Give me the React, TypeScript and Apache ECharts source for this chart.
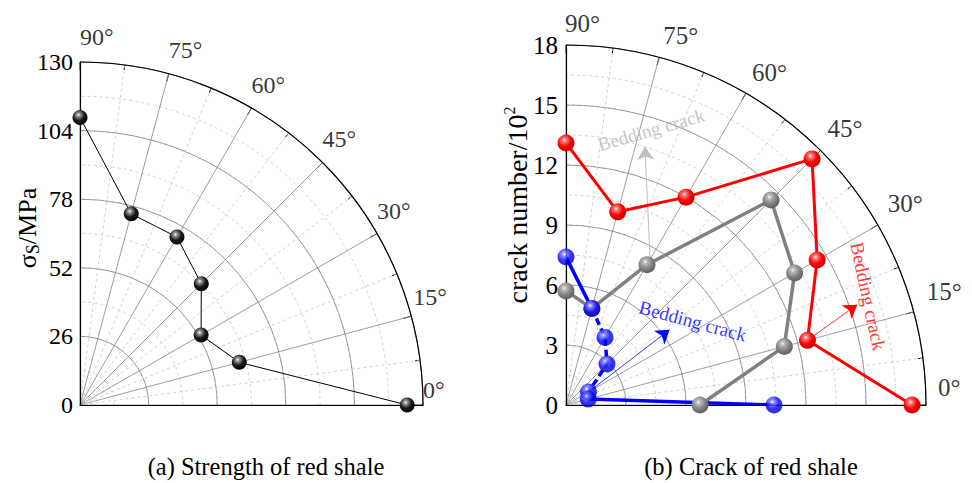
import React, { useEffect, useRef } from 'react';
import * as echarts from 'echarts';

// ---------------- data ----------------
const angles = [90, 75, 60, 45, 30, 15, 0];
const angleTicks = [0, 15, 30, 45, 60, 75, 90];

// (a) strength of red shale, MPa
const strength = [109, 75, 73.5, 65, 53, 62.5, 124];
const strengthMax = 130;
const strengthStep = 26;

// (b) crack number / 10^2
const crackRed = [13.1, 10.0, 12.0, 17.4, 14.5, 12.5, 17.3];
const crackGray = [5.7, 5.0, 8.1, 14.5, 13.2, 11.3, 6.7];
const crackBlue = [7.4, 5.0, 3.9, 2.9, 1.3, 1.15, 10.4];
const crackMax = 18;
const crackStep = 3;

// annotation arrows [radius, angle] -> [radius, angle]
const arrowRed = [[12.5, 15], [15.4, 19]];
const arrowBlue = [[1.3, 30], [6.4, 36]];
const arrowGray = [[8.3, 59.5], [13.5, 73]];
// annotation text anchors [radius, angle]
const textRed = [16.05, 19.8];
const textBlue = [7.6, 33.5];
const textGray = [14.4, 72.8];
const annotationText = 'Bedding crack';

const captionA = '(a) Strength of red shale';
const captionB = '(b) Crack of red shale';

// ---------------- styles ----------------
const FONT = "'Liberation Serif', 'Times New Roman', serif";
const polarA = { center: [80, 405], radius: 343 };
const polarB = { center: [566, 405], radius: 360 };
// angle label offsets (dx, dy) relative to the outer arc, ordered like angleTicks
const labelOffA = [[0, -15], [2, -19], [0, -22.5], [0, -23.5], [0, -23], [0, -24], [0, -25]];
const labelOffB = [[12, -18], [13, -20], [10, -22], [7, -22], [6, -21], [4, -22], [-1, -22]];
const gridColor = '#858585';
const minorColor = '#c4c4c4';

function sphere(light: string, mid: string, dark: string) {
  return new echarts.graphic.RadialGradient(0.4, 0.33, 0.7, [
    { offset: 0, color: '#ffffff' },
    { offset: 0.16, color: light },
    { offset: 0.55, color: mid },
    { offset: 1, color: dark },
  ]);
}

const angleBase = {
  type: 'value',
  min: 0,
  max: 90,
  interval: 15,
  startAngle: 0,
  endAngle: 90,
  clockwise: false,
};

// helper polars: only the dashed minor circles
function minorAngleAxis(polarIndex: number) {
  return {
    ...angleBase,
    polarIndex,
    axisLine: { show: false },
    axisTick: { show: false },
    axisLabel: { show: false },
    splitLine: { show: false },
  };
}
function minorRadiusAxis(polarIndex: number, max: number, step: number) {
  return {
    polarIndex,
    type: 'value',
    min: 0,
    max,
    interval: step / 2,
    axisLine: { show: false },
    axisTick: { show: false },
    axisLabel: { show: false },
    splitLine: { show: true, lineStyle: { color: minorColor, width: 0.8, type: [3, 3] } },
  };
}

function angleAxis(polarIndex: number) {
  return {
    ...angleBase,
    polarIndex,
    axisLine: { show: true, lineStyle: { color: '#000', width: 1.2 } },
    axisTick: { show: true, inside: true, length: 8, lineStyle: { color: '#000', width: 1 } },
    minorTick: { show: true, splitNumber: 2, length: 5, lineStyle: { color: '#000', width: 1 } },
    axisLabel: { show: false },
    splitLine: { show: true, lineStyle: { color: gridColor, width: 0.8 } },
    minorSplitLine: { show: true, lineStyle: { color: minorColor, width: 0.8, type: [3, 3] } },
  };
}

function radiusAxis(polarIndex: number, max: number, step: number) {
  return {
    polarIndex,
    type: 'value',
    min: 0,
    max,
    interval: step,
    axisLine: { show: true, lineStyle: { color: '#000', width: 1.2 } },
    axisTick: { show: false },
    axisLabel: { show: false },
    splitLine: { show: true, lineStyle: { color: gridColor, width: 0.8 } },
  };
}

function verticalAxis(gridIndex: number, max: number, step: number, fontSize: number, margin: number) {
  return {
    gridIndex,
    type: 'value',
    min: 0,
    max,
    interval: step,
    position: 'left',
    axisLine: { show: true, onZero: false, lineStyle: { color: '#000', width: 1.2 } },
    axisTick: { show: false },
    splitLine: { show: false },
    axisLabel: { show: true, margin, fontFamily: FONT, fontSize, color: '#000' },
  };
}

function angleLabels(polarIndex: number, max: number, offs: number[][], fontSize: number) {
  return {
    type: 'scatter',
    coordinateSystem: 'polar',
    polarIndex,
    silent: true,
    clip: false,
    symbolSize: 1,
    itemStyle: { color: 'rgba(0,0,0,0)' },
    data: angleTicks.map((a, i) => ({
      value: [max, a],
      label: { offset: offs[i] },
    })),
    label: {
      show: true,
      position: 'inside',
      align: 'left',
      verticalAlign: 'middle',
      formatter: (p: any) => p.value[1] + '°',
      fontFamily: FONT,
      fontSize,
      color: '#000',
    },
  };
}

function pts(vals: number[], idx?: number[]) {
  const list = idx ? idx : vals.map((_, i) => i);
  return list.map((i) => [vals[i], angles[i]]);
}

function crackSeries(vals: number[], color: string, grad: any, width: number) {
  return {
    type: 'line',
    coordinateSystem: 'polar',
    polarIndex: 3,
    clip: false,
    data: pts(vals),
    symbol: 'circle',
    symbolSize: 17,
    lineStyle: { color, width },
    itemStyle: { color: grad, borderWidth: 0 },
    z: 5,
  };
}

function mark(seg: number[][], color: string, width: number) {
  return [
    { coord: seg[0], lineStyle: { color, width, type: 'solid' } },
    { coord: seg[1] },
  ];
}

function textItem(pos: number[], color: string, rotate: number) {
  return {
    value: pos,
    label: { color, rotate },
  };
}

export default function App() {
  const ref = useRef<HTMLDivElement>(null);
  useEffect(() => {
    document.body.style.margin = '0';
    const chart = echarts.init(ref.current!, undefined, { renderer: 'svg' });
    const red = '#ff0000';
    const gray = '#808080';
    const blue = '#0000ff';
    const option: any = {
      animation: false,
      backgroundColor: '#fff',
      polar: [
        { center: polarA.center, radius: polarA.radius },
        { center: polarB.center, radius: polarB.radius },
        { center: polarA.center, radius: polarA.radius },
        { center: polarB.center, radius: polarB.radius },
      ],
      angleAxis: [minorAngleAxis(0), minorAngleAxis(1), angleAxis(2), angleAxis(3)],
      radiusAxis: [
        minorRadiusAxis(0, strengthMax, strengthStep),
        minorRadiusAxis(1, crackMax, crackStep),
        radiusAxis(2, strengthMax, strengthStep),
        radiusAxis(3, crackMax, crackStep),
      ],
      grid: [
        { left: polarA.center[0], top: polarA.center[1] - polarA.radius, width: polarA.radius, height: polarA.radius },
        { left: polarB.center[0], top: polarB.center[1] - polarB.radius, width: polarB.radius, height: polarB.radius },
      ],
      xAxis: [
        { gridIndex: 0, type: 'value', show: false },
        { gridIndex: 1, type: 'value', show: false },
      ],
      yAxis: [
        verticalAxis(0, strengthMax, strengthStep, 24, 7),
        verticalAxis(1, crackMax, crackStep, 25, 8),
      ],
      series: [
        angleLabels(2, strengthMax, labelOffA, 24),
        angleLabels(3, crackMax, labelOffB, 25),
        {
          type: 'line',
          coordinateSystem: 'polar',
          polarIndex: 2,
          clip: false,
          data: pts(strength),
          symbol: 'circle',
          symbolSize: 15,
          lineStyle: { color: '#000', width: 1 },
          itemStyle: { color: sphere('#9a9a9a', '#1a1a1a', '#000'), borderWidth: 0 },
          z: 5,
        },
        crackSeries(crackGray, gray, sphere('#bdbdbd', '#858585', '#5a5a5a'), 3.5),
        crackSeries(crackRed, red, sphere('#ff8080', '#ff0000', '#c00000'), 3),
        {
          type: 'line',
          coordinateSystem: 'polar',
          polarIndex: 3,
          clip: false,
          data: pts(crackBlue, [0, 1]),
          symbol: 'none',
          lineStyle: { color: blue, width: 3.5 },
          z: 5,
        },
        {
          type: 'line',
          coordinateSystem: 'polar',
          polarIndex: 3,
          clip: false,
          data: pts(crackBlue, [1, 2, 3, 4, 5]),
          symbol: 'none',
          lineStyle: { color: blue, width: 3.5, type: [7, 4] },
          z: 5,
        },
        {
          type: 'line',
          coordinateSystem: 'polar',
          polarIndex: 3,
          clip: false,
          data: pts(crackBlue, [5, 6]),
          symbol: 'none',
          lineStyle: { color: blue, width: 3.5 },
          z: 5,
        },
        {
          type: 'scatter',
          coordinateSystem: 'polar',
          polarIndex: 3,
          clip: false,
          data: pts(crackBlue),
          symbol: 'circle',
          symbolSize: 17,
          itemStyle: { color: sphere('#8080ff', '#0000ff', '#0000b0') },
          z: 6,
        },
        {
          type: 'scatter',
          coordinateSystem: 'polar',
          polarIndex: 3,
          silent: true,
          clip: false,
          symbolSize: 1,
          itemStyle: { color: 'rgba(0,0,0,0)' },
          data: [
            textItem(textRed, red, -78),
            textItem(textBlue, blue, -15),
            textItem(textGray, '#b8b8b8', 16),
          ],
          label: {
            show: true,
            position: 'inside',
            align: 'center',
            verticalAlign: 'middle',
            formatter: annotationText,
            fontFamily: FONT,
            fontSize: 19,
          },
          markLine: {
            silent: true,
            symbol: ['none', 'arrow'],
            symbolSize: 13,
            label: { show: false },
            data: [
              mark(arrowRed, red, 0.8),
              mark(arrowBlue, blue, 0.8),
              mark(arrowGray, '#c0c0c0', 1),
            ],
          },
          z: 7,
        },
      ],
      graphic: [
        {
          type: 'text',
          x: 266,
          y: 466,
          style: { text: captionA, font: `24.5px ${FONT}`, fill: '#000', align: 'center', verticalAlign: 'middle' },
        },
        {
          type: 'text',
          x: 751,
          y: 466,
          style: { text: captionB, font: `24.5px ${FONT}`, fill: '#000', align: 'center', verticalAlign: 'middle' },
        },
        {
          type: 'text',
          x: 27,
          y: 228,
          rotation: Math.PI / 2,
          style: {
            text: '{a|σ}{b|S}{a|/MPa}',
            align: 'center',
            verticalAlign: 'middle',
            fill: '#000',
            rich: {
              a: { fontFamily: FONT, fontSize: 26, lineHeight: 30, verticalAlign: 'middle' },
              b: { fontFamily: FONT, fontSize: 18, lineHeight: 30, verticalAlign: 'bottom' },
            },
          },
        },
        {
          type: 'text',
          x: 517,
          y: 205,
          rotation: Math.PI / 2,
          style: {
            text: '{a|crack number/10}{b|2}',
            align: 'center',
            verticalAlign: 'middle',
            fill: '#000',
            rich: {
              a: { fontFamily: FONT, fontSize: 28, lineHeight: 32, verticalAlign: 'middle' },
              b: { fontFamily: FONT, fontSize: 16, lineHeight: 32, verticalAlign: 'top' },
            },
          },
        },
      ],
    };
    chart.setOption(option);
    return () => chart.dispose();
  }, []);
  return <div ref={ref} style={{ width: 972, height: 483 }} />;
}
